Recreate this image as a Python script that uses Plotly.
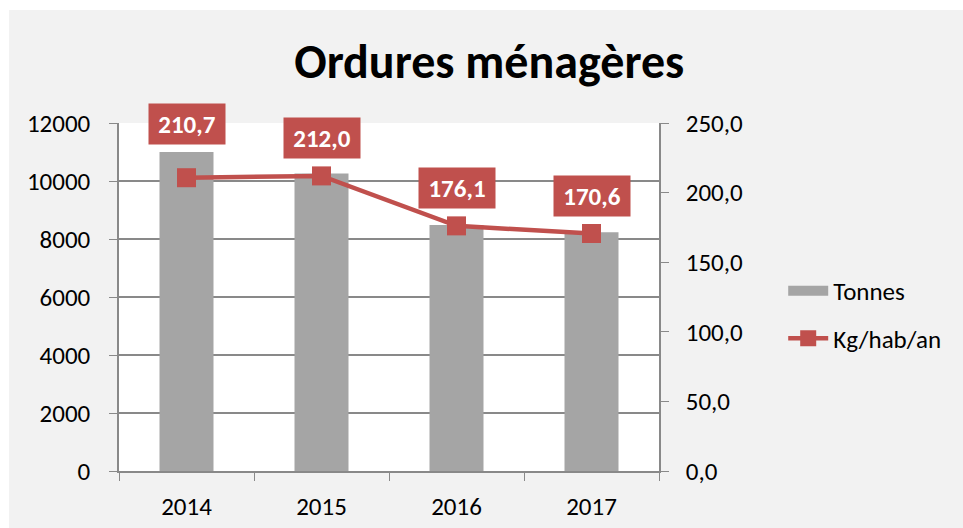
"""Ordures ménagères: tonnes (bars) and kg/hab/an (line) per year."""

import plotly.graph_objects as go

YEARS = ["2014", "2015", "2016", "2017"]
TONNES = [11000, 10260, 8480, 8230]
KG_HAB_AN = [210.7, 212.0, 176.1, 170.6]

RED = "#c0504d"
GREY_BAR = "#a5a5a5"
AXIS_GREY = "#898989"
FONT = "Carlito, Lato, 'Liberation Sans', sans-serif"
# vertical offset (px) of each data label above its marker; the first one
# sits higher so it clears the bar
LABEL_SHIFT = [54, 38, 38, 38]

fig = go.Figure()

fig.add_trace(
    go.Bar(
        x=YEARS,
        y=TONNES,
        name="Tonnes",
        showlegend=False,
        marker=dict(color=GREY_BAR, line=dict(width=0)),
        width=0.4,
    )
)
# legend entry for the bars: a thick grey stroke looks like Excel's swatch
fig.add_trace(
    go.Scatter(
        x=[None],
        y=[None],
        name="Tonnes",
        legendgroup="tonnes",
        mode="lines",
        line=dict(color=GREY_BAR, width=12),
    )
)
fig.add_trace(
    go.Scatter(
        x=YEARS,
        y=KG_HAB_AN,
        name="Kg/hab/an",
        legendgroup="kg",
        yaxis="y2",
        mode="lines+markers",
        line=dict(color=RED, width=4.5),
        marker=dict(symbol="square", size=19, color=RED),
    )
)

# data labels for the line, white on red boxes
# (category axis: annotations take the category index, not the name)
for i, val in enumerate(KG_HAB_AN):
    fig.add_annotation(
        x=i,
        y=val,
        yref="y2",
        yshift=LABEL_SHIFT[i],
        text=f"<b>{val:.1f}</b>".replace(".", ","),
        showarrow=False,
        bgcolor=RED,
        width=64,
        height=28,
        borderpad=6,
        font=dict(color="white", size=25, family=FONT),
    )

fig.update_layout(
    width=963,
    height=528,
    margin=dict(l=119, r=304, t=123, b=57, autoexpand=False),
    paper_bgcolor="#f2f2f2",
    plot_bgcolor="white",
    separators=", ",
    font=dict(family=FONT, size=25, color="black"),
    title=dict(
        text="<b>Ordures ménagères</b>",
        x=0.508,
        xanchor="center",
        y=0.885,
        yanchor="middle",
        font=dict(size=48, family=FONT, color="black"),
    ),
    showlegend=True,
    legend=dict(
        x=1.23,
        y=0.45,
        xanchor="left",
        yanchor="middle",
        bgcolor="rgba(0,0,0,0)",
        font=dict(size=25),
        tracegroupgap=12,
        itemwidth=40,
    ),
    xaxis=dict(
        type="category",
        range=[-0.5, 3.5],
        showline=True,
        linecolor=AXIS_GREY,
        linewidth=1.5,
        ticks="outside",
        tickson="boundaries",
        ticklen=8,
        tickcolor=AXIS_GREY,
        showgrid=False,
        tickangle=0,
        ticklabelstandoff=12,
    ),
    yaxis=dict(
        range=[0, 12000],
        dtick=2000,
        tickformat="d",
        showline=True,
        linecolor=AXIS_GREY,
        linewidth=1.5,
        ticks="outside",
        ticklen=8,
        tickcolor=AXIS_GREY,
        gridcolor=AXIS_GREY,
        gridwidth=1.5,
        zeroline=False,
        ticklabelstandoff=14,
    ),
    yaxis2=dict(
        overlaying="y",
        side="right",
        range=[0, 250],
        dtick=50,
        tickformat=".1f",
        showline=True,
        linecolor=AXIS_GREY,
        linewidth=1.5,
        ticks="outside",
        ticklen=8,
        tickcolor=AXIS_GREY,
        showgrid=False,
        zeroline=False,
        ticklabelstandoff=12,
    ),
    # thin white strips at the top and left edge of the picture
    shapes=[
        dict(type="rect", xref="paper", yref="paper",
             x0=-0.25, x1=1.6, y0=1.325, y1=1.4,
             fillcolor="white", line=dict(width=0), layer="below"),
        dict(type="rect", xref="paper", yref="paper",
             x0=-0.25, x1=-0.2037, y0=-0.2, y1=1.4,
             fillcolor="white", line=dict(width=0), layer="below"),
    ],
)

fig.write_html(
    "out.html",
    config={"displayModeBar": False},
    post_script="document.body.style.margin='0px';",
)
